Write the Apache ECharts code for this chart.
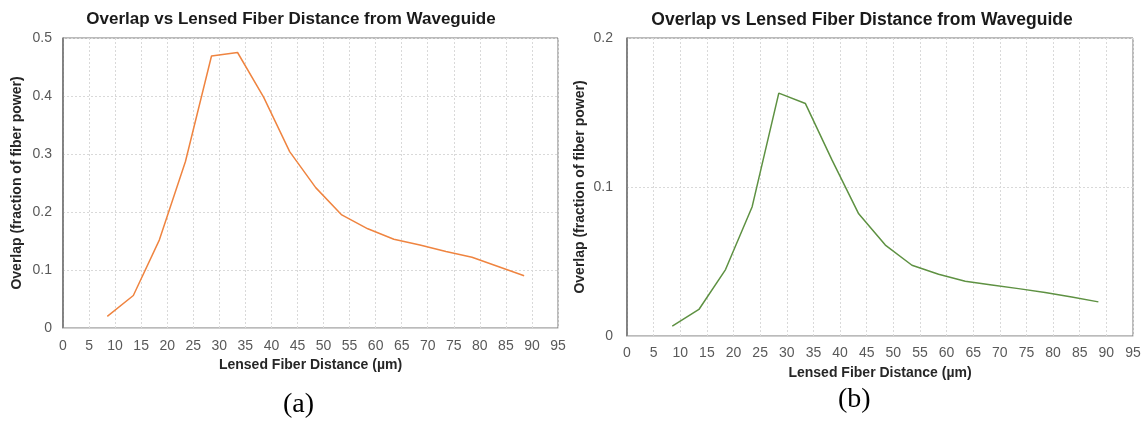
<!DOCTYPE html>
<html>
<head>
<meta charset="utf-8">
<script src="https://cdn.jsdelivr.net/npm/echarts@6/dist/echarts.min.js"></script>
<style>
  html, body { margin: 0; padding: 0; background: #fff; }
  #chart { width: 1146px; height: 421px; }
</style>
</head>
<body>
<div id="chart"></div>
<script>
// lensed fiber distance (um), same for both panels
const distance = [8.5, 13.5, 18.5, 23.5, 28.5, 33.5, 38.5, 43.5, 48.5, 53.5, 58.5, 63.5, 68.5, 73.5, 78.5, 83.5, 88.5];
// panel (a) overlap
const overlapA = [0.020, 0.056, 0.152, 0.287, 0.469, 0.475, 0.398, 0.304, 0.242, 0.195, 0.171, 0.153, 0.143, 0.132, 0.122, 0.106, 0.090];
// panel (b) overlap
const overlapB = [0.0067, 0.0178, 0.0446, 0.0868, 0.163, 0.156, 0.118, 0.082, 0.061, 0.0475, 0.0415, 0.0368, 0.0343, 0.0318, 0.0292, 0.0261, 0.0229];

const chartTitle = "Overlap vs Lensed Fiber Distance from Waveguide";
const xName = "Lensed Fiber Distance (µm)";
const yName = "Overlap (fraction of fiber power)";

const font = "Liberation Sans, Arial, sans-serif";
const pairs = (ys) => distance.map((x, i) => [x, ys[i]]);

const xAxisFor = (idx, gap, margin) => ({
  type: "value",
  gridIndex: idx,
  min: 0,
  max: 95,
  interval: 5,
  name: xName,
  nameLocation: "middle",
  nameGap: gap,
  nameTextStyle: { fontFamily: font, fontSize: 14, fontWeight: "bold", color: "#262626" },
  axisLine: { show: true, lineStyle: { color: "#d0d0d0", width: 1 } },
  axisTick: { show: false },
  axisLabel: { fontFamily: font, fontSize: 14, color: "#595959", margin: margin },
  splitLine: { show: true, lineStyle: { color: "#d9d9d9", type: [2, 2], width: 1 } },
});

const yAxisFor = (idx, max, gap, margin) => ({
  type: "value",
  gridIndex: idx,
  min: 0,
  max: max,
  interval: 0.1,
  name: yName,
  nameLocation: "middle",
  nameGap: gap,
  nameTextStyle: { fontFamily: font, fontSize: 14, fontWeight: "bold", color: "#262626" },
  axisLine: { show: true, lineStyle: { color: "#6f6f6f", width: 1.5 } },
  axisTick: { show: false },
  axisLabel: { fontFamily: font, fontSize: 14, color: "#595959", margin: margin },
  splitLine: { show: true, lineStyle: { color: "#d9d9d9", type: [2, 2], width: 1 } },
});

const myChart = echarts.init(document.getElementById("chart"), null, { renderer: "canvas" });
myChart.setOption({
  animation: false,
  backgroundColor: "#fff",
  title: [
    { text: chartTitle, left: 286, top: 6, textAlign: "center",
      textStyle: { fontFamily: font, fontSize: 17, fontWeight: "bold", color: "#1a1a1a" } },
    { text: chartTitle, left: 857, top: 6, textAlign: "center",
      textStyle: { fontFamily: font, fontSize: 17.5, fontWeight: "bold", color: "#1a1a1a" } },
  ],
  graphic: [
    { type: "text", left: 283, top: 391,
      style: { text: "(a)", fontFamily: "Liberation Serif, Times New Roman, serif", fontSize: 28, fill: "#000" } },
    { type: "text", left: 838, top: 386,
      style: { text: "(b)", fontFamily: "Liberation Serif, Times New Roman, serif", fontSize: 28, fill: "#000" } },
  ],
  grid: [
    { left: 63, top: 38, width: 495, height: 290, show: true, borderColor: "#777777", borderWidth: 1 },
    { left: 627, top: 38, width: 506, height: 298, show: true, borderColor: "#777777", borderWidth: 1 },
  ],
  xAxis: [xAxisFor(0, 29, 11), xAxisFor(1, 30, 10)],
  yAxis: [yAxisFor(0, 0.5, 39, 11), yAxisFor(1, 0.2, 40, 14)],
  series: [
    { type: "line", xAxisIndex: 0, yAxisIndex: 0, data: pairs(overlapA), showSymbol: false,
      lineStyle: { color: "#EF8440", width: 1.5 } },
    { type: "line", xAxisIndex: 1, yAxisIndex: 1, data: pairs(overlapB), showSymbol: false,
      lineStyle: { color: "#5E9142", width: 1.5 } },
  ],
});
</script>
</body>
</html>
